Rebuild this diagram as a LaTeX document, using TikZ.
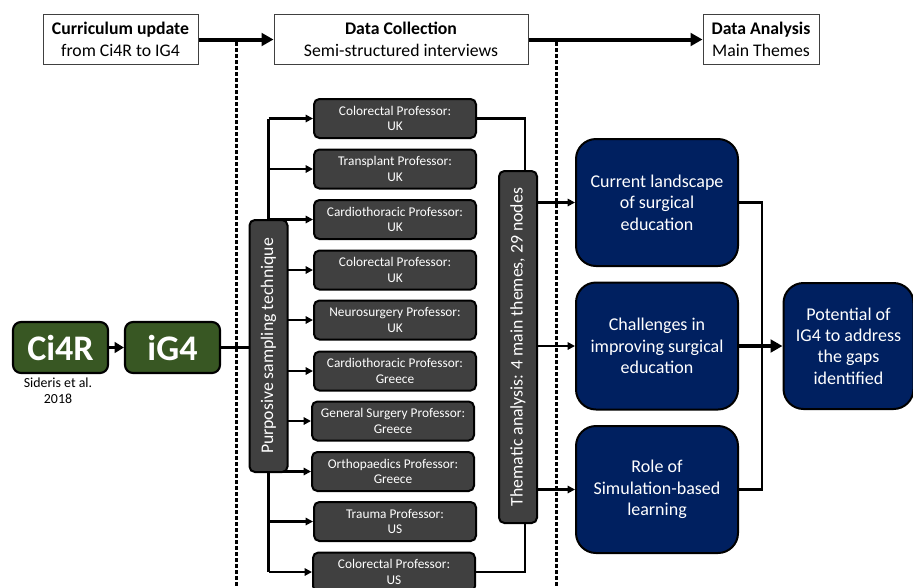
\documentclass[tikz,border=0pt]{standalone}
\usepackage{fontspec}
\setmainfont{Carlito}
\usetikzlibrary{arrows.meta,backgrounds}
\definecolor{grn}{HTML}{385723}
\definecolor{nvy}{HTML}{002060}
\definecolor{gry}{HTML}{404040}
\begin{document}
\begin{tikzpicture}[x=0.75pt,y=-0.75pt,
 topbox/.style={draw=black!75,line width=0.75pt,fill=white,inner sep=0pt,align=center,minimum height=37.5pt,font=\fontsize{13.3}{16.5}\selectfont},
 greenbox/.style={draw=black,line width=1.6pt,fill=grn,rounded corners=6pt,text=white,font=\fontsize{27}{30}\selectfont\bfseries,minimum width=71.25pt,minimum height=38.25pt,inner sep=0pt},
 profbox/.style={draw=black,line width=1.5pt,fill=gry,rounded corners=4pt,text=white,align=center,font=\fontsize{10}{11.5}\selectfont,minimum width=121.5pt,minimum height=29.25pt,inner sep=0pt},
 vbox/.style={draw=black,line width=1.5pt,fill=gry,rounded corners=4pt,text=white,font=\fontsize{13.3}{15}\selectfont,inner sep=0pt,minimum width=28.5pt},
 themebox/.style={draw=black,line width=1.5pt,fill=nvy,rounded corners=15pt,text=white,align=center,font=\fontsize{13.5}{16}\selectfont,minimum width=121.5pt,minimum height=95.25pt,inner sep=0pt},
 conn/.style={line width=1.6pt},
 arr/.style={conn,-{Triangle[length=5.5pt,width=5.5pt]}},
 bigarr/.style={line width=3pt,-{Triangle[length=9pt,width=9.5pt]}},
 dots/.style={line width=2.5pt,dash pattern=on 3pt off 1.5pt}
]
\useasboundingbox (0,0) rectangle (913,587);

% top row
\node[topbox,minimum width=116.25pt] (b1) at (120.5,39.5) {\textbf{Curriculum update}\\from Ci4R to IG4};
\node[topbox,minimum width=190.5pt] (b2) at (401,39.5) {\textbf{Data Collection}\\Semi-structured interviews};
\node[topbox,minimum width=87pt] (b3) at (761,39.5) {\textbf{Data Analysis}\\Main Themes};

% green boxes
\node[greenbox] (ci) at (60.5,347.5) {Ci4R};
\node[greenbox] (ig) at (172.5,347.5) {iG4};
\node[align=center,font=\fontsize{10.4}{12}\selectfont] (ref) at (58,391) {Sideris et al.\\2018};

% vertical boxes
\node[vbox,minimum height=189pt] (pv) at (268.5,346) {\rotatebox{90}{Purposive sampling technique}};
\node[vbox,minimum height=264pt] (th) at (518,347) {\rotatebox{90}{Thematic analysis: 4 main themes, 29 nodes}};

% professors
\node[profbox] (p1) at (395,118.5) {Colorectal Professor:\\UK};
\node[profbox] (p2) at (395,169) {Transplant Professor:\\UK};
\node[profbox] (p3) at (395,219.5) {Cardiothoracic Professor:\\UK};
\node[profbox] (p4) at (395,270) {Colorectal Professor:\\UK};
\node[profbox] (p5) at (395,320) {Neurosurgery Professor:\\UK};
\node[profbox] (p6) at (395,371) {Cardiothoracic Professor:\\Greece};
\node[profbox] (p7) at (393,421) {General Surgery Professor:\\Greece};
\node[profbox] (p8) at (393,471.5) {Orthopaedics Professor:\\Greece};
\node[profbox] (p9) at (395,521.5) {Trauma Professor:\\US};
\node[profbox] (p10) at (394,572) {Colorectal Professor:\\US};

% themes
\node[themebox] (t1) at (657,202.5) {Current landscape\\of surgical\\education};
\node[themebox] (t2) at (657,346) {Challenges in\\improving surgical\\education};
\node[themebox] (t3) at (657,489.5) {Role of\\Simulation-based\\learning};
\node[themebox,minimum width=97.5pt,minimum height=94.5pt] (fin) at (848.5,346) {Potential of\\IG4 to address\\the gaps\\identified};

\coordinate (rx) at (525,347);
\coordinate (jx) at (762,346);

% connectors
\draw[bigarr] (b1.east) -- (b2.west);
\draw[bigarr] (b2.east) -- (b3.west);
\draw[line width=2.4pt,-{Triangle[length=7pt,width=8pt]}] (ci.east) -- (ig.west);
\draw[bigarr] (t2.east) -- (fin.west);

\begin{scope}[on background layer]
\draw[dots] (236.5,42) -- (236.5,587);
\draw[dots] (556.5,42) -- (556.5,587);
\draw[conn] (ig.east) -- (ig.east -| pv.west);
\draw[conn] (p1.west -| pv.center) -- (p10.west -| pv.center);
\foreach \p in {p1,p2,p3,p4,p5,p6,p7,p8,p9,p10}
  \draw[arr] (\p.west -| pv.center) -- (\p.west);
\draw[conn] (p1.east) -| (rx);
\draw[conn] (p10.east) -| (rx);
\draw[arr] (t1.west -| th.east) -- (t1.west);
\draw[arr] (t2.west -| th.east) -- (t2.west);
\draw[arr] (t3.west -| th.east) -- (t3.west);
\draw[conn] (t1.east) -| (jx) |- (t3.east);
\end{scope}
\end{tikzpicture}
\end{document}
